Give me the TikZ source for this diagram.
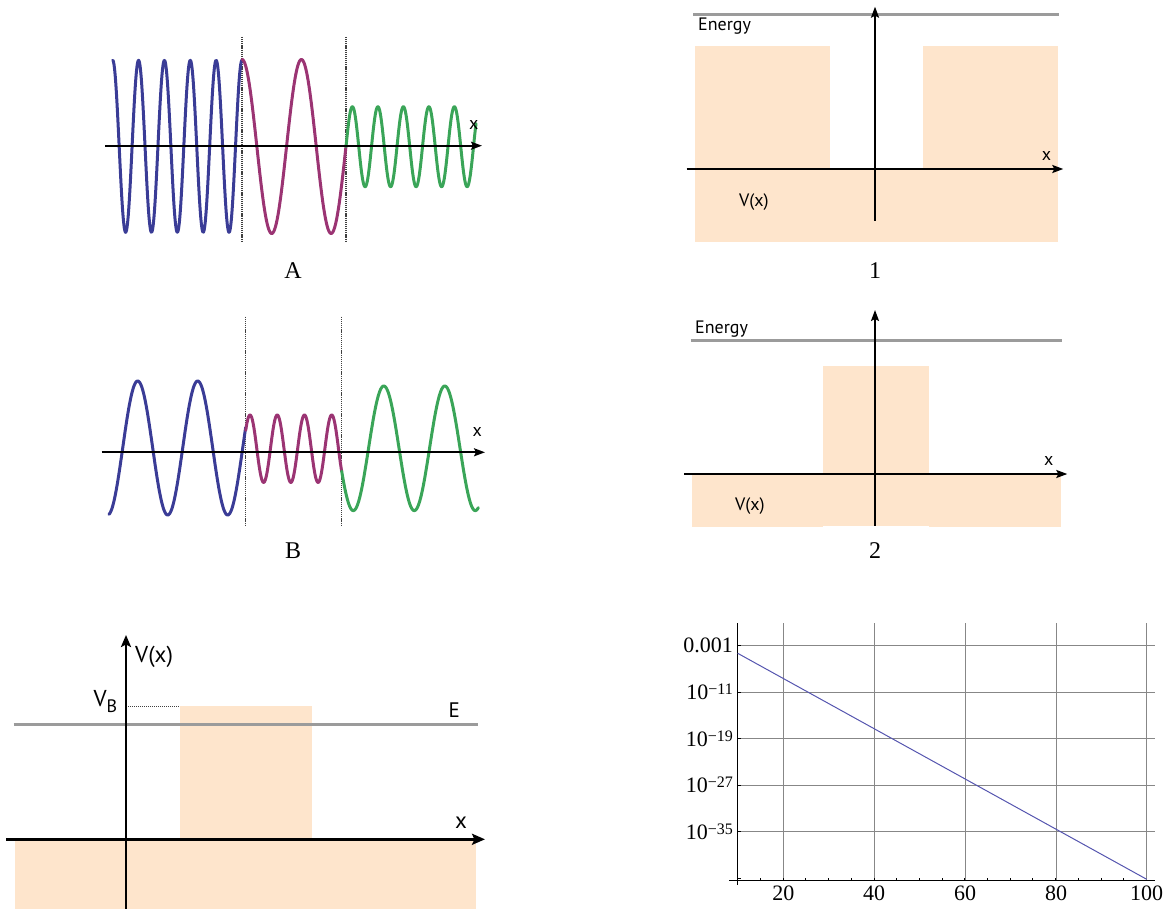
\documentclass[tikz,border=0pt]{standalone}
\usepackage{fontspec}
\setmainfont{Liberation Serif}
\newfontfamily\lblsans{PT Sans}
\usetikzlibrary{arrows.meta}
\definecolor{wblue}{RGB}{58,60,150}
\definecolor{wmag}{RGB}{155,52,115}
\definecolor{wgreen}{RGB}{58,165,88}
\definecolor{peach}{RGB}{254,229,204}
\definecolor{egray}{RGB}{155,155,155}
\definecolor{pblue}{RGB}{85,85,175}
\definecolor{gridgray}{RGB}{135,135,135}
\begin{document}
\begin{tikzpicture}[x=1pt,y=-1pt,
  wave/.style={line width=3pt,line join=round,line cap=round},
  axisline/.style={line width=1.9pt,-{Stealth[length=11pt,width=8pt,inset=2pt]}},
  bigaxis/.style={line width=3pt,-{Stealth[length=13pt,width=11pt,inset=2.5pt]}},
  divline/.style={draw=black!75,line width=1.2pt,dash pattern=on 1.2pt off 0.9pt},
  energyline/.style={draw=egray,line width=3pt},
  caption/.style={font=\fontsize{24}{24}\selectfont,anchor=base,inner sep=0pt},
  sanslbl/.style={font=\lblsans\fontsize{18}{18}\selectfont,anchor=base west,inner sep=0pt},
  bigsans/.style={font=\lblsans\fontsize{23}{23}\selectfont,anchor=base west,inner sep=0pt},
  gridl/.style={draw=gridgray,line width=0.9pt},
  ticklbl/.style={font=\fontsize{22}{22}\selectfont,inner sep=0pt},
  tickmark/.style={draw=black,line width=0.8pt}
]
\useasboundingbox (0,0) rectangle (1169,909);

% ===== Panel A =====
\coordinate (Ad1t) at (242,37); \coordinate (Ad1b) at (242,242);
\coordinate (Ad2t) at (346,37); \coordinate (Ad2b) at (346,242);
\draw[divline] (Ad1t) -- (Ad1b);
\draw[divline] (Ad2t) -- (Ad2b);
\draw[wave,wblue] plot[domain=112.7:242,samples=300] (\x,{146.3-86*cos((\x-112.7)/25.86*360)});
\draw[wave,wmag] plot[domain=242:346,samples=200] (\x,{146.5-87*cos((\x-242)/59.4*360)});
\draw[wave,wgreen] plot[domain=346:476,samples=300] (\x,{146.7-40*sin((\x-346)/25.5*360)});
\coordinate (Aax0) at (105,145.7); \coordinate (Aax1) at (482,145.7);
\draw[axisline] (Aax0) -- (Aax1);
\node[sanslbl] (Ax) at (469,129.3) {x};
\node[caption] (Acap) at (293,278.3) {A};

% ===== Panel B =====
\coordinate (Bd1t) at (245.7,316.7); \coordinate (Bd1b) at (245.7,526);
\coordinate (Bd2t) at (341.7,316.7); \coordinate (Bd2b) at (341.7,526);
\draw[divline] (Bd1t) -- (Bd1b);
\draw[divline] (Bd2t) -- (Bd2b);
\draw[wave,wblue] plot[domain=109:245.7,samples=250] (\x,{448+67*cos((\x-107.7)/60*360)});
\draw[wave,wmag] plot[domain=245.7:341.7,samples=250] (\x,{448.7-33.7*cos((\x-250)/27.23*360)});
\draw[wave,wgreen] plot[domain=341.7:478.3,samples=250] (\x,{448.3+62.3*cos((\x-353.3)/61*360)});
\coordinate (Bax0) at (101.7,452.3); \coordinate (Bax1) at (485,452.3);
\draw[axisline] (Bax0) -- (Bax1);
\node[sanslbl] (Bx) at (472.3,436) {x};
\node[caption] (Bcap) at (293,558.3) {B};

% ===== Panel 1 =====
\fill[peach] (695,46) rectangle (830,241.7);
\fill[peach] (923.3,46) rectangle (1057.7,241.7);
\fill[peach] (695,168) rectangle (1057.7,241.7);
\coordinate (P1e0) at (693.3,15); \coordinate (P1e1) at (1059,15);
\draw[energyline] (P1e0) -- (P1e1);
\coordinate (P1x0) at (686.7,169); \coordinate (P1x1) at (1063.3,169);
\draw[axisline] (P1x0) -- (P1x1);
\coordinate (P1y0) at (875,221); \coordinate (P1y1) at (875,6.7);
\draw[axisline] (P1y0) -- (P1y1);
\node[sanslbl] (P1en) at (698,30.7) {Energy};
\node[sanslbl] (P1v) at (739,206.7) {V(x)};
\node[sanslbl] (P1x) at (1041.7,161) {x};
\node[caption] (P1cap) at (875,278.3) {1};

% ===== Panel 2 =====
\fill[peach] (691.7,474) rectangle (823.3,527);
\fill[peach] (823.3,366) rectangle (929,526);
\fill[peach] (929,474) rectangle (1061,527);
\coordinate (P2e0) at (690.7,340); \coordinate (P2e1) at (1061.7,340);
\draw[energyline] (P2e0) -- (P2e1);
\coordinate (P2x0) at (684,474); \coordinate (P2x1) at (1067.3,474);
\draw[axisline] (P2x0) -- (P2x1);
\coordinate (P2y0) at (875,525.7); \coordinate (P2y1) at (875,310);
\draw[axisline] (P2y0) -- (P2y1);
\node[sanslbl] (P2en) at (695,333.3) {Energy};
\node[sanslbl] (P2v) at (735,510.7) {V(x)};
\node[sanslbl] (P2x) at (1044,465) {x};
\node[caption] (P2cap) at (875,558.3) {2};

% ===== Bottom-left =====
\fill[peach] (180,706) rectangle (311.7,839);
\fill[peach] (15,839) rectangle (475.7,909);
\coordinate (BLe0) at (13.7,724.7); \coordinate (BLe1) at (477.7,724.7);
\draw[energyline] (BLe0) -- (BLe1);
\coordinate (BLd0) at (126,706); \coordinate (BLd1) at (180,706);
\draw[draw=black!75,line width=0.9pt,dash pattern=on 1pt off 1pt] (BLd0) -- (BLd1);
\coordinate (BLx0) at (6,839.3); \coordinate (BLx1) at (485,839.3);
\draw[bigaxis] (BLx0) -- (BLx1);
\coordinate (BLy0) at (126,909); \coordinate (BLy1) at (126,635);
\draw[line width=2.4pt,-{Stealth[length=12pt,width=10pt,inset=2.5pt]}] (BLy0) -- (BLy1);
\node[bigsans] (BLv) at (135,662.7) {V(x)};
\node[bigsans] (BLvb) at (93.3,706) {V\raisebox{-6pt}{\fontsize{18}{18}\selectfont B}};
\node[font=\lblsans\fontsize{21}{21}\selectfont,anchor=base west,inner sep=0pt] (BLE) at (448.3,717.3) {E};
\node[font=\lblsans\fontsize{23}{23}\selectfont,anchor=base west,inner sep=0pt] (BLxl) at (455,828.3) {x};

% ===== Bottom-right plot =====
\foreach \gx in {783.3,874,965,1056,1146.7}{
  \draw[gridl] (\gx,623.3) -- (\gx,880.7);
}
\foreach \gy in {645.7,692,738.7,785.3,831.7}{
  \draw[gridl] (737.7,\gy) -- (1155,\gy);
}
\coordinate (PLx0) at (729.3,880.7); \coordinate (PLx1) at (1155,880.7);
\draw[line width=1pt] (PLx0) -- (PLx1);
\coordinate (PLy0) at (737.7,623.3); \coordinate (PLy1) at (737.7,885);
\draw[line width=1pt] (PLy0) -- (PLy1);
\foreach \k in {1,...,17}{
  \draw[tickmark] ({737.7+22.7*\k},880.7) -- ({737.7+22.7*\k},877.5);
}
\foreach \gy in {645.7,692,738.7,785.3,831.7,878}{
  \draw[tickmark] (737.7,\gy) -- (741,\gy);
}
\coordinate (PL0) at (737.7,653.3); \coordinate (PL1) at (1146.7,879.3);
\draw[pblue,line width=1pt] (PL0) -- (PL1);
\node[ticklbl,anchor=base east] (yl1) at (733,652.2) {0.001};
\node[ticklbl,anchor=base east] (yl2) at (733,699.5) {10\raisebox{5pt}{\fontsize{16}{16}\selectfont −11}};
\node[ticklbl,anchor=base east] (yl3) at (733,746.2) {10\raisebox{5pt}{\fontsize{16}{16}\selectfont −19}};
\node[ticklbl,anchor=base east] (yl4) at (733,792.8) {10\raisebox{5pt}{\fontsize{16}{16}\selectfont −27}};
\node[ticklbl,anchor=base east] (yl5) at (733,839.2) {10\raisebox{5pt}{\fontsize{16}{16}\selectfont −35}};
\node[ticklbl,anchor=base] (xl1) at (783.3,900.5) {20};
\node[ticklbl,anchor=base] (xl2) at (874,900.5) {40};
\node[ticklbl,anchor=base] (xl3) at (965,900.5) {60};
\node[ticklbl,anchor=base] (xl4) at (1056,900.5) {80};
\node[ticklbl,anchor=base] (xl5) at (1146.7,900.5) {100};
\end{tikzpicture}
\end{document}
